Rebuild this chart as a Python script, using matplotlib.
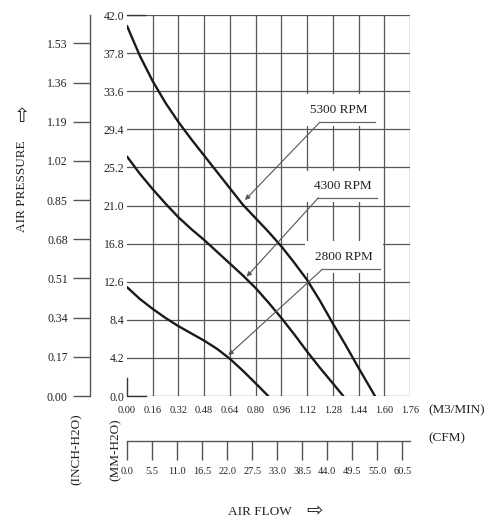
import numpy as np
import matplotlib
matplotlib.use('Agg')
import matplotlib.pyplot as plt

plt.rcParams['font.family'] = ['Liberation Serif', 'DejaVu Sans']

# fan curves, x = air flow (M3/MIN), y = static pressure (MM-H2O)
flow_5300 = [0.00, 0.08, 0.16, 0.24, 0.32, 0.40, 0.48, 0.56, 0.64, 0.72, 0.80, 0.88, 0.96, 1.04, 1.12, 1.20, 1.28, 1.36, 1.44, 1.542]
pres_5300 = [40.8, 37.5, 34.7, 32.3, 30.2, 28.3, 26.5, 24.7, 22.9, 21.1, 19.6, 18.1, 16.5, 14.7, 12.8, 10.5, 8.0, 5.6, 3.1, 0.0]

flow_4300 = [0.00, 0.08, 0.16, 0.24, 0.32, 0.40, 0.48, 0.56, 0.64, 0.72, 0.80, 0.88, 0.96, 1.04, 1.12, 1.20, 1.28, 1.345]
pres_4300 = [26.4, 24.5, 22.8, 21.2, 19.7, 18.4, 17.2, 15.9, 14.6, 13.3, 11.9, 10.3, 8.6, 6.8, 4.9, 3.1, 1.4, 0.0]

flow_2800 = [0.00, 0.08, 0.16, 0.24, 0.32, 0.40, 0.48, 0.56, 0.64, 0.72, 0.80, 0.878]
pres_2800 = [12.0, 10.7, 9.6, 8.6, 7.7, 6.9, 6.1, 5.2, 4.1, 2.8, 1.4, 0.0]

m3_ticks = [0.00, 0.16, 0.32, 0.48, 0.64, 0.80, 0.96, 1.12, 1.28, 1.44, 1.60, 1.76]
mm_ticks = [0.0, 4.2, 8.4, 12.6, 16.8, 21.0, 25.2, 29.4, 33.6, 37.8, 42.0]
inch_ticks = [0.00, 0.17, 0.34, 0.51, 0.68, 0.85, 1.02, 1.19, 1.36, 1.53]
cfm_ticks = [0.0, 5.5, 11.0, 16.5, 22.0, 27.5, 33.0, 38.5, 44.0, 49.5, 55.0, 60.5]

# label, text pos, underline (x0, x1, y), arrow tip
labels = ['5300 RPM', '4300 RPM', '2800 RPM']
text_pos = [(1.315, 31.5), (1.340, 23.1), (1.350, 15.3)]
underline = [(1.20, 1.542, 30.2), (1.19, 1.553, 21.85), (1.215, 1.573, 13.97)]
tips = [(0.734, 21.6), (0.744, 13.15), (0.63, 4.5)]

TXT = '#222222'
GRID = '#555555'

fig = plt.figure(figsize=(5, 5.25), dpi=100)
L, B, W, H = 0.254, 0.2457, 0.566, 0.7257
ax = fig.add_axes([L, B, W, H])

ax.set_xlim(0, 1.76)
ax.set_ylim(0, 42)
ax.set_xticks(m3_ticks)
ax.set_yticks(mm_ticks)
ax.set_xticklabels(['%.2f' % v for v in m3_ticks])
ax.set_yticklabels(['%.1f' % v for v in mm_ticks])
ax.tick_params(axis='x', length=0, pad=7, labelsize=7.5, labelcolor=TXT)
ax.tick_params(axis='y', length=0, pad=2, labelsize=8.5, labelcolor=TXT)
ax.grid(True, color=GRID, lw=0.9)
ax.xaxis.get_gridlines()[0].set_visible(False)
for s in ax.spines.values():
    s.set_visible(False)

# corner stubs
ax.plot([0, 0, 0.12], [2.0, 0, 0], color='#333333', lw=1.0, clip_on=False)
ax.plot([0, 0.11], [42, 42], color='#333333', lw=1.0, clip_on=False)

for fx, py in [(flow_5300, pres_5300), (flow_4300, pres_4300), (flow_2800, pres_2800)]:
    ax.plot(fx, py, color='#1a1a1a', lw=1.7, solid_joinstyle='round',
            solid_capstyle='round', zorder=4)

for lab, tp, ul, tip in zip(labels, text_pos, underline, tips):
    ax.text(tp[0], tp[1], lab, fontsize=9.5, color=TXT, ha='center', va='center',
            bbox=dict(boxstyle='square,pad=0.75', fc='white', ec='none'), zorder=3)
    ax.plot([ul[0], ul[1]], [ul[2], ul[2]], color='#666666', lw=0.9, zorder=5)
    ax.annotate('', xy=tip, xytext=(ul[0], ul[2]),
                arrowprops=dict(arrowstyle='-|>', color='#555555', lw=0.8,
                                mutation_scale=7, shrinkA=0, shrinkB=0), zorder=5)

# INCH-H2O scale
ax_in = fig.add_axes([90 / 500, B, 0.0001, H])
ax_in.set_ylim(0, 42 / 25.4)
ax_in.set_yticks(inch_ticks)
ax_in.set_yticklabels(['%.2f' % v for v in inch_ticks])
ax_in.set_xticks([])
for k in ['top', 'right', 'bottom']:
    ax_in.spines[k].set_visible(False)
ax_in.spines['left'].set_color(GRID)
ax_in.spines['left'].set_linewidth(1.0)
ax_in.tick_params(axis='y', direction='out', length=12, width=1.0, color=GRID,
                  pad=4, labelsize=8.5, labelcolor=TXT)

# CFM scale
ax_cfm = fig.add_axes([L, (525 - 441) / 525, W, 0.0001])
ax_cfm.set_xlim(0, 1.76 * 35.3147)
ax_cfm.set_xticks(cfm_ticks)
ax_cfm.set_xticklabels(['%.1f' % v for v in cfm_ticks])
ax_cfm.set_yticks([])
for k in ['top', 'right', 'left']:
    ax_cfm.spines[k].set_visible(False)
ax_cfm.spines['bottom'].set_color(GRID)
ax_cfm.spines['bottom'].set_linewidth(1.0)
ax_cfm.tick_params(axis='x', direction='out', length=13.5, width=1.0, color=GRID,
                   pad=5, labelsize=7.5, labelcolor=TXT)

# axis titles
fig.text(428 / 500, 1 - 410 / 525, '(M3/MIN)', fontsize=9.5, color=TXT, ha='left', va='center')
fig.text(428 / 500, 1 - 438 / 525, '(CFM)', fontsize=9.5, color=TXT, ha='left', va='center')
fig.text(292 / 500, 1 - 512 / 525, 'AIR FLOW', fontsize=9.5, color=TXT, ha='right', va='center')
fig.text(315 / 500, 1 - 511 / 525, '\u21e8', fontsize=14, color=TXT, ha='center', va='center',
         family='DejaVu Sans')
fig.text(22 / 500, 1 - 140 / 525, 'AIR PRESSURE', fontsize=9.5, color=TXT,
         rotation=90, ha='center', va='top')
fig.text(22 / 500, 1 - 117 / 525, '\u21e7', fontsize=14, color=TXT, ha='center', va='center',
         family='DejaVu Sans')
fig.text(77 / 500, 1 - 449 / 525, '(INCH-H2O)', fontsize=9.5, color=TXT,
         rotation=90, ha='center', va='center')
fig.text(116 / 500, 1 - 450 / 525, '(MM-H2O)', fontsize=9.5, color=TXT,
         rotation=90, ha='center', va='center')

fig.savefig('out.png', dpi=100)
